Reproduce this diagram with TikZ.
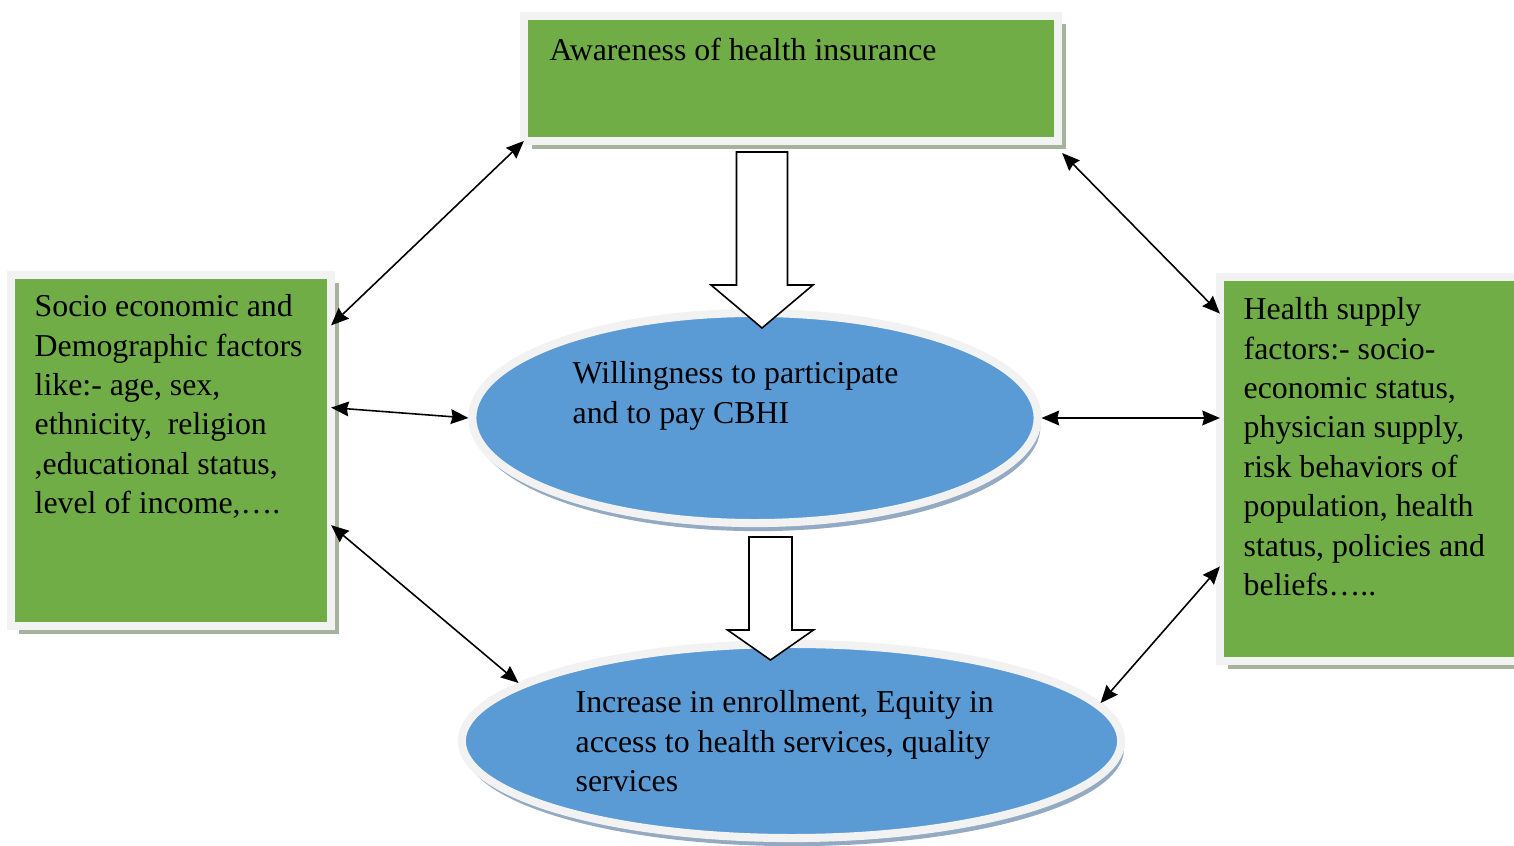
\documentclass[tikz,border=0pt]{standalone}
\usepackage{fontspec}
\setmainfont{Liberation Serif}
\usetikzlibrary{arrows.meta,shadows,calc,shapes.geometric}
\definecolor{boxgreen}{HTML}{70AD47}
\definecolor{ellblue}{HTML}{5B9BD5}
\definecolor{rim}{HTML}{F2F2F2}
\definecolor{boxshadow}{HTML}{A6B39C}
\definecolor{ellshadow}{HTML}{93AAC2}
\begin{document}
\begin{tikzpicture}[x=0.01cm,y=-0.01cm,
  greenbox/.style={rectangle, fill=boxgreen, draw=rim, line width=2.2pt, inner sep=0pt, outer sep=0pt,
    general shadow={fill=boxshadow, shadow xshift=2.2pt, shadow yshift=-2.2pt}},
  blueell/.style={ellipse, fill=ellblue, draw=rim, line width=2.3pt, inner sep=0pt, outer sep=1.1pt,
    general shadow={fill=ellshadow, shadow xshift=0.8pt, shadow yshift=-2.3pt}},
  txt/.style={anchor=north west, inner sep=0pt, align=left, font=\fontsize{9.05}{11.2}\selectfont},
  dbl/.style={line width=0.45pt, {Stealth[length=5pt,width=4.2pt,inset=0.5pt]}-{Stealth[length=5pt,width=4.2pt,inset=0.5pt]}},
  blockarrow/.style={draw=black, fill=white, line width=0.45pt, line join=miter}]
\useasboundingbox (0,0) rectangle (1514,846);
\fill[white] (0,0) rectangle (1514,846);
\clip (0,0) rectangle (1514,846);

% shapes
\node[greenbox, minimum width=5.34cm, minimum height=1.25cm] (topbox) at (791,78.5) {};
\node[greenbox, minimum width=3.20cm, minimum height=3.51cm] (leftbox) at (171,450.5) {};
\node[greenbox, minimum width=3.00cm, minimum height=3.84cm] (rightbox) at (1370,469) {};
\node[blueell, minimum width=5.65cm, minimum height=2.10cm] (ell1) at (755,418) {};
\node[blueell, minimum width=6.59cm, minimum height=1.94cm] (ell2) at (791.5,741) {};

% texts
\node[txt] (t1) at (549,37) {Awareness of health insurance};
\node[txt] (t2) at (34,294) {Socio economic and\\Demographic factors\\like:- age, sex,\\ethnicity,~ religion\\,educational status,\\level of income,….};
\node[txt] (t3) at (1243,297) {Health supply\\factors:- socio-\\economic status,\\physician supply,\\risk behaviors of\\population, health\\status, policies and\\beliefs…..};
\node[txt] (t4) at (572,361) {Willingness to participate\\and to pay CBHI};
\node[txt] (t5) at (575,690) {Increase in enrollment, Equity in\\access to health services, quality\\services};

% block arrows
\coordinate (ba1) at (762,152);
\coordinate (ba2) at (770.5,537);
\draw[blockarrow] ($(ba1)+(-25.5,0)$) -- ++(51,0) -- ++(0,133) -- ++(25.5,0) -- ++(-51,43) -- ++(-51,-43) -- ++(25.5,0) -- cycle;
\draw[blockarrow] ($(ba2)+(-21.5,0)$) -- ++(43,0) -- ++(0,93) -- ++(21.5,0) -- ++(-43,30) -- ++(-43,-30) -- ++(21.5,0) -- cycle;

% connectors
\draw[dbl] (leftbox.38) -- (topbox.south west);
\draw[dbl] (leftbox.15) -- (ell1.west);
\draw[dbl] (leftbox.-25) -- (ell2.168);
\draw[dbl] ([shift={(4,12)}]topbox.south east) -- (rightbox.134);
\draw[dbl] (ell1.east) -- (ell1.east -| rightbox.west);
\draw[dbl] (ell2.7) -- (rightbox.213);
\end{tikzpicture}
\end{document}
